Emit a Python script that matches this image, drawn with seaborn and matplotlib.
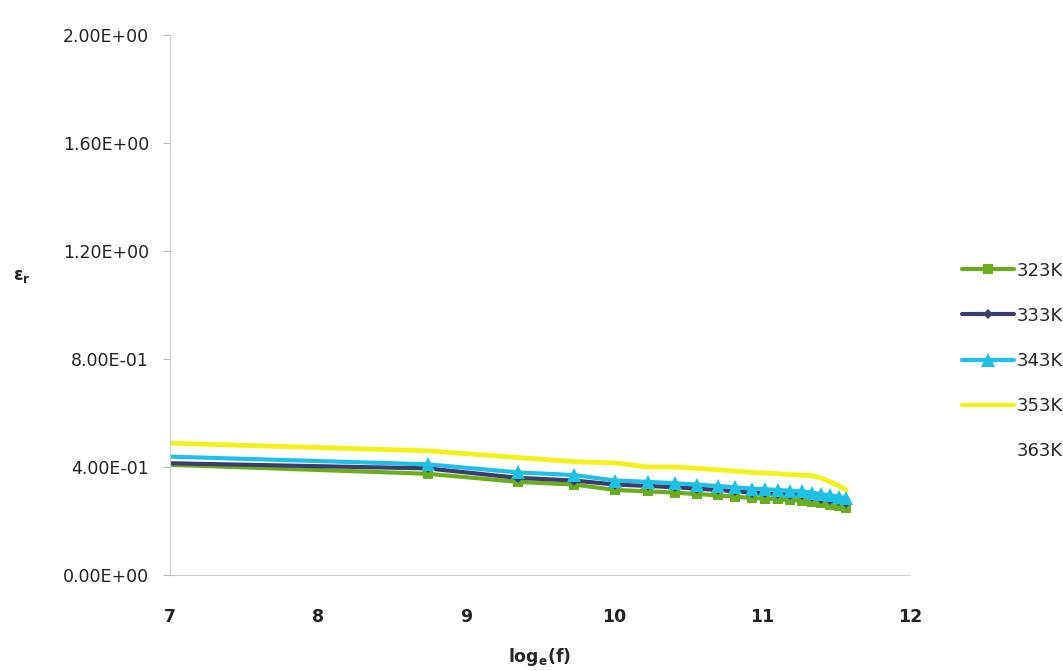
import numpy as np
import pandas as pd
import matplotlib
matplotlib.use("Agg")
import matplotlib.pyplot as plt
from matplotlib.lines import Line2D
import seaborn as sns

# ln(f) values
log_f = [6.90, 8.74, 9.35, 9.73, 10.01, 10.23, 10.41, 10.56, 10.70, 10.82,
         10.93, 11.02, 11.11, 11.19, 11.27, 11.34, 11.40, 11.46, 11.52, 11.57]

er_323K = [0.41, 0.375, 0.345, 0.335, 0.315, 0.31, 0.305, 0.30, 0.295, 0.29,
           0.285, 0.283, 0.28, 0.278, 0.275, 0.27, 0.265, 0.26, 0.255, 0.25]
er_333K = [0.415, 0.395, 0.36, 0.35, 0.335, 0.33, 0.325, 0.32, 0.315, 0.31,
           0.305, 0.302, 0.30, 0.298, 0.295, 0.29, 0.283, 0.278, 0.273, 0.268]
er_343K = [0.44, 0.41, 0.38, 0.37, 0.35, 0.345, 0.34, 0.335, 0.33, 0.325,
           0.32, 0.318, 0.315, 0.312, 0.31, 0.305, 0.30, 0.295, 0.29, 0.285]
er_353K = [0.49, 0.46, 0.435, 0.42, 0.415, 0.40, 0.40, 0.395, 0.39, 0.385,
           0.38, 0.378, 0.375, 0.372, 0.37, 0.368, 0.36, 0.345, 0.33, 0.315]

series_labels = ["323K", "333K", "343K", "353K", "363K"]
x_ticks = [7, 8, 9, 10, 11, 12]
y_ticks = [0.0, 0.4, 0.8, 1.2, 1.6, 2.0]
y_tick_labels = ["0.00E+00", "4.00E-01", "8.00E-01", "1.20E+00", "1.60E+00", "2.00E+00"]

sns.set_theme(style="white")
plt.rcParams["font.family"] = ["DejaVu Sans"]

fig = plt.figure(figsize=(10.63, 6.71), dpi=100)
ax = fig.add_axes([0.16, 0.143, 0.696, 0.805])

styles = [
    (er_323K, "323K", "#6aae1f", "s", 7.5, 3.0),
    (er_333K, "333K", "#3b3b6e", "D", 5, 3.0),
    (er_353K, "353K", "#f2f21a", None, 0, 3.5),
    (er_343K, "343K", "#1fc0e6", "^", 10, 3.0),
]
handles = {}
for vals, lab, col, mk, ms, lw in styles:
    df = pd.DataFrame({"x": log_f, "y": vals})
    sns.lineplot(data=df, x="x", y="y", ax=ax, color=col, linewidth=lw,
                 marker=mk, markersize=ms, markeredgewidth=0, sort=False)
    handles[lab] = Line2D([0], [0], color=col, linewidth=3, marker=mk,
                          markersize=ms, markeredgewidth=0)
handles["363K"] = Line2D([0], [0], color="none", linewidth=3)

ax.set_xlim(7, 12)
ax.set_ylim(0, 2.0)
ax.set_xticks(x_ticks)
ax.set_xticklabels([str(t) for t in x_ticks], fontsize=12.5, fontweight="bold", color="#222222")
ax.set_yticks(y_ticks)
ax.set_yticklabels(y_tick_labels, fontsize=12.5, color="#222222")
ax.tick_params(axis="y", which="both", left=True, length=5, width=0.8, color="#bbbbbb", pad=10)
ax.tick_params(axis="x", which="both", bottom=False, pad=18)

for s in ["top", "right"]:
    ax.spines[s].set_visible(False)
for s in ["left", "bottom"]:
    ax.spines[s].set_color("#cccccc")
    ax.spines[s].set_linewidth(0.8)

ax.set_xlabel(r"$\mathbf{log_e(f)}$", fontsize=12.5, labelpad=14)
ax.set_ylabel(r"$\mathbf{\varepsilon_r}$", fontsize=12.5, rotation=0, labelpad=8)
ax.yaxis.set_label_coords(-0.2, 0.537)

fig.legend([handles[l] for l in series_labels], series_labels,
           loc="upper left", bbox_to_anchor=(0.905, 0.61), frameon=False,
           borderaxespad=0, borderpad=0,
           fontsize=13, handlelength=2.9, handletextpad=0.15, labelspacing=1.5)

fig.savefig("out.png", dpi=100)
